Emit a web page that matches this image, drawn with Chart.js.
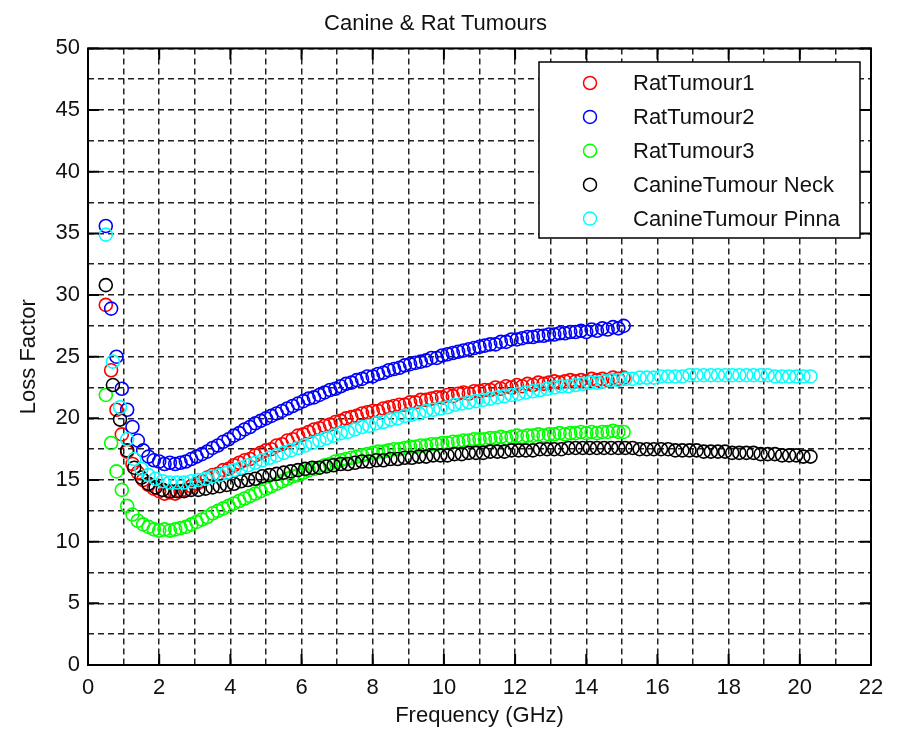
<!DOCTYPE html>
<html>
<head>
<meta charset="utf-8">
<script src="https://cdn.jsdelivr.net/npm/chart.js@4.4.1/dist/chart.umd.min.js"></script>
<style>
  html, body { margin: 0; padding: 0; background: #fff; }
  #wrap { width: 897px; height: 730px; }
</style>
</head>
<body>
<div id="wrap"><canvas id="loss-chart" width="897" height="730"></canvas></div>
<script>
// Frequency sweeps (GHz)
const freqRat = [
  0.5, 0.65, 0.8, 0.95, 1.1, 1.25, 1.4, 1.55, 1.7, 1.85,
  2.0, 2.15, 2.3, 2.45, 2.6, 2.75, 2.9, 3.05, 3.2, 3.35,
  3.5, 3.65, 3.8, 3.95, 4.1, 4.25, 4.4, 4.55, 4.7, 4.85,
  5.0, 5.15, 5.3, 5.45, 5.6, 5.75, 5.9, 6.05, 6.2, 6.35,
  6.5, 6.65, 6.8, 6.95, 7.1, 7.25, 7.4, 7.55, 7.7, 7.85,
  8.0, 8.15, 8.3, 8.45, 8.6, 8.75, 8.9, 9.05, 9.2, 9.35,
  9.5, 9.65, 9.8, 9.95, 10.1, 10.25, 10.4, 10.55, 10.7, 10.85,
  11.0, 11.15, 11.3, 11.45, 11.6, 11.75, 11.9, 12.05, 12.2, 12.35,
  12.5, 12.65, 12.8, 12.95, 13.1, 13.25, 13.4, 13.55, 13.7, 13.85,
  14.0, 14.15, 14.3, 14.45, 14.6, 14.75, 14.9, 15.05
];
const freqCanine = [
  0.5, 0.7, 0.9, 1.1, 1.3, 1.5, 1.7, 1.9, 2.1, 2.3,
  2.5, 2.7, 2.9, 3.1, 3.3, 3.5, 3.7, 3.9, 4.1, 4.3,
  4.5, 4.7, 4.9, 5.1, 5.3, 5.5, 5.7, 5.9, 6.1, 6.3,
  6.5, 6.7, 6.9, 7.1, 7.3, 7.5, 7.7, 7.9, 8.1, 8.3,
  8.5, 8.7, 8.9, 9.1, 9.3, 9.5, 9.7, 9.9, 10.1, 10.3,
  10.5, 10.7, 10.9, 11.1, 11.3, 11.5, 11.7, 11.9, 12.1, 12.3,
  12.5, 12.7, 12.9, 13.1, 13.3, 13.5, 13.7, 13.9, 14.1, 14.3,
  14.5, 14.7, 14.9, 15.1, 15.3, 15.5, 15.7, 15.9, 16.1, 16.3,
  16.5, 16.7, 16.9, 17.1, 17.3, 17.5, 17.7, 17.9, 18.1, 18.3,
  18.5, 18.7, 18.9, 19.1, 19.3, 19.5, 19.7, 19.9, 20.1, 20.3
];

// Loss factor per sample
const ratTumour1 = [
  29.2, 23.9, 20.7, 18.7, 17.3, 16.3, 15.6, 15.0, 14.6, 14.3,
  14.1, 13.9, 14.0, 13.9, 14.1, 14.2, 14.5, 14.7, 14.9, 15.2,
  15.4, 15.5, 15.8, 15.9, 16.2, 16.4, 16.6, 16.7, 17.0, 17.2,
  17.4, 17.5, 17.8, 17.9, 18.2, 18.3, 18.6, 18.7, 18.9, 19.1,
  19.2, 19.4, 19.5, 19.7, 19.8, 20.0, 20.1, 20.2, 20.4, 20.5,
  20.6, 20.6, 20.8, 20.9, 21.0, 21.1, 21.1, 21.3, 21.3, 21.5,
  21.5, 21.6, 21.7, 21.7, 21.9, 21.8, 22.0, 22.1, 22.0, 22.2,
  22.2, 22.3, 22.3, 22.5, 22.4, 22.6, 22.5, 22.7, 22.6, 22.8,
  22.7, 22.9, 22.8, 22.9, 23.0, 22.9, 23.0, 23.1, 23.0, 23.1,
  23.0, 23.2, 23.1, 23.2, 23.1, 23.3, 23.2, 23.3
];
const ratTumour2 = [
  35.6, 28.9, 25.0, 22.4, 20.7, 19.3, 18.2, 17.4, 16.9, 16.6,
  16.5, 16.3, 16.4, 16.3, 16.4, 16.5, 16.7, 16.9, 17.1, 17.3,
  17.6, 17.8, 18.1, 18.3, 18.6, 18.8, 19.1, 19.3, 19.6, 19.8,
  20.0, 20.2, 20.4, 20.6, 20.8, 21.0, 21.2, 21.4, 21.6, 21.7,
  21.9, 22.1, 22.3, 22.4, 22.6, 22.8, 22.9, 23.1, 23.2, 23.4,
  23.4, 23.6, 23.7, 23.9, 24.0, 24.1, 24.3, 24.4, 24.5, 24.6,
  24.7, 24.9, 24.9, 25.1, 25.2, 25.3, 25.4, 25.5, 25.6, 25.7,
  25.8, 25.9, 26.0, 26.0, 26.2, 26.2, 26.4, 26.4, 26.5, 26.6,
  26.6, 26.7, 26.7, 26.8, 26.8, 26.9, 26.9, 27.0, 27.0, 27.1,
  27.0, 27.2, 27.1, 27.3, 27.2, 27.4, 27.3, 27.5
];
const ratTumour3 = [
  21.9, 18.0, 15.7, 14.2, 12.9, 12.2, 11.7, 11.4, 11.2, 11.0,
  10.9, 11.0, 10.9, 11.0, 11.1, 11.2, 11.4, 11.6, 11.8, 12.0,
  12.3, 12.5, 12.7, 12.9, 13.1, 13.3, 13.5, 13.7, 13.9, 14.1,
  14.3, 14.5, 14.7, 14.9, 15.1, 15.3, 15.4, 15.6, 15.8, 15.9,
  16.0, 16.2, 16.3, 16.5, 16.6, 16.7, 16.8, 16.9, 17.0, 17.1,
  17.2, 17.3, 17.3, 17.4, 17.5, 17.5, 17.6, 17.7, 17.7, 17.8,
  17.8, 17.9, 17.9, 18.0, 18.0, 18.1, 18.1, 18.2, 18.2, 18.3,
  18.3, 18.3, 18.4, 18.4, 18.5, 18.4, 18.5, 18.6, 18.5, 18.6,
  18.6, 18.7, 18.6, 18.7, 18.7, 18.8, 18.7, 18.8, 18.8, 18.9,
  18.8, 18.9, 18.8, 18.9, 18.9, 19.0, 18.9, 18.9
];
const canineNeck = [
  30.8, 22.7, 19.9, 17.4, 16.0, 15.2, 14.7, 14.4, 14.2, 14.1,
  14.1, 14.1, 14.2, 14.2, 14.3, 14.4, 14.5, 14.6, 14.7, 14.9,
  15.0, 15.1, 15.3, 15.4, 15.5, 15.6, 15.7, 15.8, 15.9, 16.0,
  16.0, 16.1, 16.2, 16.3, 16.3, 16.4, 16.5, 16.5, 16.6, 16.6,
  16.7, 16.7, 16.8, 16.8, 16.9, 16.9, 17.0, 17.0, 17.0, 17.1,
  17.1, 17.2, 17.2, 17.2, 17.3, 17.3, 17.3, 17.4, 17.4, 17.4,
  17.4, 17.5, 17.5, 17.5, 17.5, 17.6, 17.6, 17.6, 17.6, 17.6,
  17.6, 17.6, 17.6, 17.6, 17.6, 17.5, 17.5, 17.5, 17.5, 17.5,
  17.4, 17.4, 17.4, 17.4, 17.3, 17.3, 17.3, 17.3, 17.2, 17.2,
  17.2, 17.2, 17.1, 17.1, 17.1, 17.0, 17.0, 17.0, 16.9, 16.9
];
const caninePinna = [
  34.9, 24.6, 20.9, 18.3, 16.7, 15.9, 15.4, 15.1, 14.9, 14.8,
  14.8, 14.8, 14.9, 15.0, 15.1, 15.3, 15.4, 15.6, 15.8, 16.0,
  16.2, 16.4, 16.6, 16.8, 17.0, 17.2, 17.4, 17.6, 17.8, 18.0,
  18.2, 18.4, 18.6, 18.8, 18.9, 19.1, 19.3, 19.4, 19.6, 19.7,
  19.9, 20.0, 20.2, 20.3, 20.4, 20.6, 20.7, 20.8, 20.9, 21.1,
  21.2, 21.3, 21.4, 21.5, 21.6, 21.7, 21.8, 21.9, 22.0, 22.1,
  22.2, 22.3, 22.4, 22.5, 22.6, 22.6, 22.7, 22.8, 22.9, 22.9,
  23.0, 23.1, 23.1, 23.2, 23.2, 23.3, 23.3, 23.3, 23.4, 23.4,
  23.4, 23.4, 23.5, 23.5, 23.5, 23.5, 23.5, 23.5, 23.5, 23.5,
  23.5, 23.5, 23.5, 23.5, 23.4, 23.4, 23.4, 23.4, 23.4, 23.4
];

const seriesNames = ['RatTumour1', 'RatTumour2', 'RatTumour3', 'CanineTumour Neck', 'CanineTumour Pinna'];
const seriesColors = ['#ff0000', '#0000ff', '#00ff00', '#000000', '#00ffff'];

const FONT = '"Liberation Sans", Arial, sans-serif';

function pts(xs, ys) {
  return xs.map((x, i) => ({ x: x, y: ys[i] }));
}

// matlab style frame with inward ticks on all four sides
const frameTicks = {
  id: 'frameTicks',
  afterDatasetsDraw(chart) {
    const { ctx, chartArea: a, scales } = chart;
    const len = 11;
    ctx.save();
    ctx.strokeStyle = '#000';
    ctx.lineWidth = 2;
    ctx.strokeRect(a.left, a.top, a.right - a.left, a.bottom - a.top);
    ctx.beginPath();
    scales.x.ticks.forEach(t => {
      if (t.value % 2 !== 0) return;
      const px = scales.x.getPixelForValue(t.value);
      ctx.moveTo(px, a.bottom); ctx.lineTo(px, a.bottom - len);
      ctx.moveTo(px, a.top); ctx.lineTo(px, a.top + len);
    });
    scales.y.ticks.forEach(t => {
      if (t.value % 5 !== 0) return;
      const py = scales.y.getPixelForValue(t.value);
      ctx.moveTo(a.left, py); ctx.lineTo(a.left + len, py);
      ctx.moveTo(a.right, py); ctx.lineTo(a.right - len, py);
    });
    ctx.stroke();
    ctx.restore();
  }
};

// boxed legend inside the plot, top right
const boxLegend = {
  id: 'boxLegend',
  afterDraw(chart) {
    const ctx = chart.ctx;
    const x0 = 539, y0 = 62, w = 321, h = 176;
    ctx.save();
    ctx.fillStyle = '#fff';
    ctx.fillRect(x0, y0, w, h);
    ctx.strokeStyle = '#000';
    ctx.lineWidth = 1.5;
    ctx.strokeRect(x0, y0, w, h);
    ctx.font = '22px ' + FONT;
    ctx.textBaseline = 'middle';
    chart.data.datasets.forEach((ds, i) => {
      const cy = 83 + i * 33.9;
      ctx.beginPath();
      ctx.strokeStyle = ds.borderColor;
      ctx.lineWidth = 1.5;
      ctx.arc(590, cy, 6.5, 0, Math.PI * 2);
      ctx.stroke();
      ctx.fillStyle = '#111';
      ctx.fillText(ds.label, 633, cy + 1);
    });
    ctx.restore();
  }
};

const datasets = [
  [freqRat, ratTumour1],
  [freqRat, ratTumour2],
  [freqRat, ratTumour3],
  [freqCanine, canineNeck],
  [freqCanine, caninePinna]
].map((s, i) => ({
  label: seriesNames[i],
  data: pts(s[0], s[1]),
  borderColor: seriesColors[i],
  backgroundColor: 'rgba(0,0,0,0)',
  pointStyle: 'circle',
  pointRadius: 6.5,
  pointBorderWidth: 1.6,
  order: 5 - i
}));

new Chart(document.getElementById('loss-chart'), {
  type: 'scatter',
  data: { datasets: datasets },
  options: {
    responsive: false,
    animation: false,
    events: [],
    layout: { padding: { top: 0, right: 26, left: 0, bottom: 0 } },
    plugins: {
      legend: { display: false },
      tooltip: { enabled: false },
      title: {
        display: true,
        text: 'Canine & Rat Tumours',
        color: '#111',
        font: { family: FONT, size: 22, weight: 'normal' },
        padding: { top: 11, bottom: 11 }
      }
    },
    scales: {
      x: {
        type: 'linear',
        min: 0, max: 22,
        ticks: {
          stepSize: 1,
          autoSkip: false,
          maxRotation: 0,
          padding: 10,
          color: '#111',
          font: { family: FONT, size: 22 },
          callback: v => (v % 2 === 0 ? v : '')
        },
        grid: { color: '#222', lineWidth: 1.5, drawTicks: false },
        border: { display: false, dash: [6, 4] },
        title: {
          display: true,
          text: 'Frequency (GHz)',
          color: '#111',
          font: { family: FONT, size: 22 },
          padding: { top: 0, bottom: 1 }
        },
        afterFit: s => { s.height = 65; }
      },
      y: {
        type: 'linear',
        min: 0, max: 50,
        ticks: {
          stepSize: 2.5,
          autoSkip: false,
          padding: 8,
          color: '#111',
          font: { family: FONT, size: 22 },
          callback: v => (v % 5 === 0 ? v : '')
        },
        grid: { color: '#222', lineWidth: 1.5, drawTicks: false },
        border: { display: false, dash: [6, 4] },
        title: {
          display: true,
          text: 'Loss Factor',
          color: '#111',
          font: { family: FONT, size: 22 },
          padding: { top: 16, bottom: 0 }
        },
        afterFit: s => { s.width = 88; }
      }
    }
  },
  plugins: [frameTicks, boxLegend]
});
</script>
</body>
</html>
